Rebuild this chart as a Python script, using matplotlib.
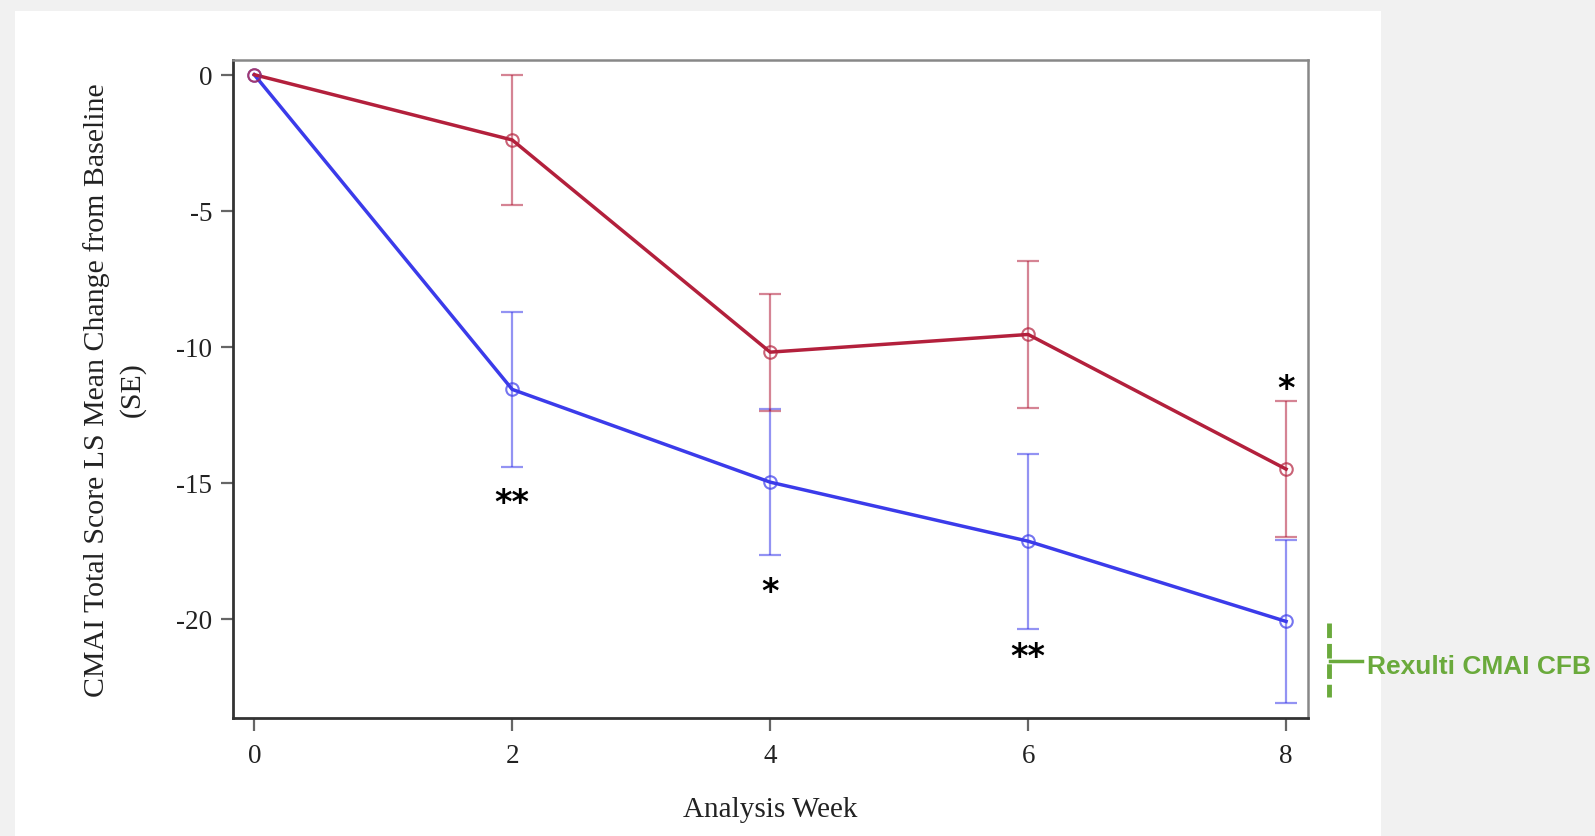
import numpy as np
import matplotlib.pyplot as plt
from matplotlib.lines import Line2D
from matplotlib.patches import Rectangle

weeks = [0, 2, 4, 6, 8]

placebo_mean = [0, -2.4, -10.2, -9.55, -14.5]
placebo_se = [0, 2.4, 2.15, 2.7, 2.5]

rexulti_mean = [0, -11.57, -14.98, -17.15, -20.1]
rexulti_se = [0, 2.85, 2.68, 3.22, 3.0]

# significance marks: (week, label, side of the error bars)
stars = [(2, '**', 'below'), (4, '*', 'below'), (6, '**', 'below'), (8, '*', 'above')]

red = '#b3203c'
blue = '#3b3bea'
green = '#6aaa3c'

fig = plt.figure(figsize=(15.95, 8.37), dpi=100)
fig.patch.set_facecolor('#f1f1f1')
panel = Rectangle((15 / 1595, 0), (1381 - 15) / 1595, 1 - 12 / 837,
                  transform=fig.transFigure, facecolor='white',
                  edgecolor='none', zorder=-5)
fig.patches.append(panel)

ax = fig.add_axes([233 / 1595, 1 - 719 / 837, (1308 - 233) / 1595, (719 - 61) / 837])
ax.set_facecolor('white')

for m, s, c in [(rexulti_mean, rexulti_se, blue), (placebo_mean, placebo_se, red)]:
    ax.errorbar(weeks[1:], m[1:], yerr=s[1:], fmt='none', ecolor=c, alpha=0.55,
                elinewidth=1.6, capsize=8, capthick=1.6, zorder=2)
    ax.plot(weeks, m, color=c, lw=2.5, zorder=3)
    ax.plot(weeks, m, 'o', mfc='none', mec=c, ms=9, mew=1.5, alpha=0.7, zorder=4)

for w, lab, side in stars:
    i = weeks.index(w)
    if side == 'below':
        y0 = rexulti_mean[i] - rexulti_se[i]
        off = -28 if w == 6 else -36
    else:
        y0 = placebo_mean[i] + placebo_se[i]
        off = 13
    ax.annotate(lab, (w, y0), xytext=(0, off), textcoords='offset pixels',
                ha='center', va='center', fontsize=24, fontweight='bold',
                family='DejaVu Sans', color='black')

ax.set_xlim(-0.165, 8.17)
ax.set_ylim(-23.65, 0.54)
ax.set_xticks(weeks)
ax.set_yticks([0, -5, -10, -15, -20])
ax.set_yticklabels(['0', '-5', '-10', '-15', '-20'])

for sp in ['left', 'bottom']:
    ax.spines[sp].set_color('#333333')
    ax.spines[sp].set_linewidth(2)
for sp in ['top', 'right']:
    ax.spines[sp].set_color('#888888')
    ax.spines[sp].set_linewidth(1.8)

ax.tick_params(axis='both', direction='out', length=9, width=1.6, color='#666666',
               labelsize=19.5, labelcolor='#222222')
ax.tick_params(axis='x', pad=9)
ax.tick_params(axis='y', pad=6)
for t in ax.get_xticklabels() + ax.get_yticklabels():
    t.set_family('Liberation Serif')

ax.set_xlabel('Analysis Week', family='Liberation Serif', fontsize=21,
              color='#222222', labelpad=20)
ax.set_ylabel('CMAI Total Score LS Mean Change from Baseline\n(SE)',
              family='Liberation Serif', fontsize=21.5, color='#222222',
              labelpad=22, linespacing=1.4)

# green bracket annotation on the right
fig.lines.append(Line2D([1329 / 1595, 1329 / 1595], [1 - 624 / 837, 1 - 698 / 837],
                        transform=fig.transFigure, color=green, lw=3.5,
                        dashes=(3, 1.2)))
fig.lines.append(Line2D([1330 / 1595, 1362 / 1595], [1 - 662 / 837, 1 - 662 / 837],
                        transform=fig.transFigure, color=green, lw=2.5))
fig.text(1367 / 1595, 1 - 667 / 837, 'Rexulti CMAI CFB', color=green,
         fontsize=19, fontweight='bold', family='Liberation Sans',
         ha='left', va='center')

fig.savefig('out.png', dpi=100, facecolor=fig.get_facecolor())
